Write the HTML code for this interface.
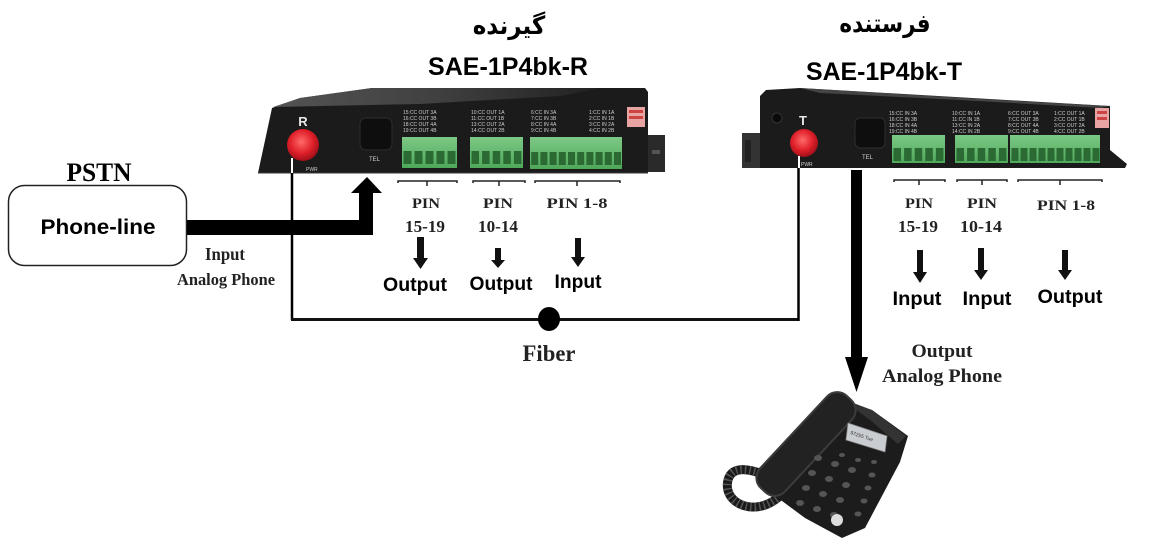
<!DOCTYPE html>
<html><head><meta charset="utf-8"><style>
html,body{margin:0;padding:0;background:#fff;}
svg{display:block;}
.sans{font-family:"Liberation Sans",Arial,sans-serif;font-weight:bold;}
.serif{font-family:"Liberation Serif","Times New Roman",serif;font-weight:bold;}
.fa{font-family:"DejaVu Sans",sans-serif;font-weight:bold;}
.tiny{font-family:"Liberation Sans",sans-serif;font-size:5px;fill:#cfcfcf;}
</style></head><body>
<svg width="1168" height="544" viewBox="0 0 1168 544" xmlns="http://www.w3.org/2000/svg">
<defs>
<radialGradient id="red" cx="45%" cy="40%" r="60%">
<stop offset="0" stop-color="#ff6a6a"/><stop offset="0.6" stop-color="#e0202a"/><stop offset="1" stop-color="#a0101a"/>
</radialGradient>
<linearGradient id="top" x1="0" y1="0" x2="1" y2="0">
<stop offset="0" stop-color="#5a5a5a"/><stop offset="0.5" stop-color="#444"/><stop offset="1" stop-color="#222"/>
</linearGradient>
<linearGradient id="grn" x1="0" y1="0" x2="0" y2="1">
<stop offset="0" stop-color="#7cc985"/><stop offset="1" stop-color="#4fa85a"/>
</linearGradient>
</defs>

<!-- Titles -->
<text class="fa" font-size="25" text-anchor="middle" transform="translate(509,34) scale(0.92,1)">گیرنده</text>
<text class="sans" x="508" y="75" font-size="25" text-anchor="middle" textLength="160" lengthAdjust="spacingAndGlyphs">SAE-1P4bk-R</text>
<text class="fa" font-size="25" text-anchor="middle" transform="translate(885,32) scale(0.86,1)">فرستنده</text>
<text class="sans" x="884" y="80" font-size="25" text-anchor="middle" textLength="156" lengthAdjust="spacingAndGlyphs">SAE-1P4bk-T</text>

<!-- LEFT DEVICE (R) -->
<rect x="645" y="135" width="20" height="37" fill="#2a2a2a"/>
<rect x="652" y="150" width="8" height="4" fill="#555"/>
<polygon points="258,173 272,108 300,98 372,88 645,88 648,92 648,173" fill="#1b1b1b"/>
<polygon points="273,107 300,98 372,88 600,88 560,96 420,104" fill="url(#top)" opacity="0.9"/>
<line x1="258" y1="173" x2="648" y2="173" stroke="#3a3a3a" stroke-width="1"/>
<circle cx="303" cy="145" r="16" fill="url(#red)"/>
<text class="sans" x="303" y="126" font-size="13" fill="#e8e8e8" text-anchor="middle" font-weight="normal">R</text>
<text class="tiny" x="306" y="171">PWR</text>
<rect x="360" y="118" width="32" height="32" rx="6" fill="#0e0e0e" stroke="#2e2e2e"/>
<text class="tiny" x="369" y="161" style="font-size:6px">TEL</text>
<g class="tiny">
<text x="403" y="114">15:CC OUT 3A</text><text x="403" y="120">16:CC OUT 3B</text><text x="403" y="126">18:CC OUT 4A</text><text x="403" y="132">19:CC OUT 4B</text>
<text x="471" y="114">10:CC OUT 1A</text><text x="471" y="120">11:CC OUT 1B</text><text x="471" y="126">13:CC OUT 2A</text><text x="471" y="132">14:CC OUT 2B</text>
<text x="531" y="114">6:CC IN 3A</text><text x="531" y="120">7:CC IN 3B</text><text x="531" y="126">8:CC IN 4A</text><text x="531" y="132">9:CC IN 4B</text>
<text x="589" y="114">1:CC IN 1A</text><text x="589" y="120">2:CC IN 1B</text><text x="589" y="126">3:CC IN 2A</text><text x="589" y="132">4:CC IN 2B</text>
</g>
<rect x="627" y="107" width="18" height="20" fill="#e8a3a3"/>
<rect x="629" y="110" width="14" height="3" fill="#c44"/><rect x="629" y="116" width="14" height="3" fill="#c44"/>
<rect x="402" y="137" width="55" height="31" fill="url(#grn)"/>
<rect x="470" y="137" width="53" height="31" fill="url(#grn)"/>
<rect x="530" y="137" width="92" height="32" fill="url(#grn)"/>
<g fill="#2b6a33">
<rect x="403.5" y="151" width="8" height="13"/><rect x="414.5" y="151" width="8" height="13"/><rect x="425.5" y="151" width="8" height="13"/><rect x="436.5" y="151" width="8" height="13"/><rect x="447.5" y="151" width="8" height="13"/>
<rect x="471.5" y="151" width="7.5" height="13"/><rect x="482.1" y="151" width="7.5" height="13"/><rect x="492.7" y="151" width="7.5" height="13"/><rect x="503.3" y="151" width="7.5" height="13"/><rect x="513.9" y="151" width="7.5" height="13"/>
<rect x="531.2" y="152" width="7" height="13"/><rect x="540.4" y="152" width="7" height="13"/><rect x="549.6" y="152" width="7" height="13"/><rect x="558.8" y="152" width="7" height="13"/><rect x="568" y="152" width="7" height="13"/><rect x="577.2" y="152" width="7" height="13"/><rect x="586.4" y="152" width="7" height="13"/><rect x="595.6" y="152" width="7" height="13"/><rect x="604.8" y="152" width="7" height="13"/><rect x="614" y="152" width="7" height="13"/>
</g>
<g stroke="#222" stroke-width="1.5" fill="none">
<polyline points="398,183 398,181 457,181 457,183"/><line x1="427" y1="181" x2="427" y2="186"/>
<polyline points="473,183 473,181 525,181 525,183"/><line x1="499" y1="181" x2="499" y2="186"/>
<polyline points="535,183 535,181 620,181 620,183"/><line x1="577" y1="181" x2="577" y2="186"/>
</g>

<!-- RIGHT DEVICE (T) -->
<rect x="742" y="133" width="22" height="35" fill="#333"/>
<rect x="745" y="140" width="6" height="22" fill="#222"/>
<polygon points="760,168 760,96 766,90 800,88 1110,106 1110,150 1127,164 1125,168" fill="#1b1b1b"/>
<polygon points="800,88 1000,100 1110,106 1100,108 960,100 820,93" fill="#555" opacity="0.7"/>
<circle cx="777" cy="118" r="5" fill="#0a0a0a" stroke="#333"/>
<circle cx="804" cy="143" r="14" fill="url(#red)"/>
<text class="sans" x="803" y="125" font-size="13" fill="#e8e8e8" text-anchor="middle" font-weight="normal">T</text>
<text class="tiny" x="801" y="166">PWR</text>
<rect x="855" y="118" width="30" height="30" rx="5" fill="#0e0e0e" stroke="#2e2e2e"/>
<text class="tiny" x="862" y="159" style="font-size:6px">TEL</text>
<g class="tiny">
<text x="889" y="115">15:CC IN 3A</text><text x="889" y="121">16:CC IN 3B</text><text x="889" y="127">18:CC IN 4A</text><text x="889" y="133">19:CC IN 4B</text>
<text x="952" y="115">10:CC IN 1A</text><text x="952" y="121">11:CC IN 1B</text><text x="952" y="127">13:CC IN 2A</text><text x="952" y="133">14:CC IN 2B</text>
<text x="1008" y="115">6:CC OUT 3A</text><text x="1008" y="121">7:CC OUT 3B</text><text x="1008" y="127">8:CC OUT 4A</text><text x="1008" y="133">9:CC OUT 4B</text>
<text x="1054" y="115">1:CC OUT 1A</text><text x="1054" y="121">2:CC OUT 1B</text><text x="1054" y="127">3:CC OUT 2A</text><text x="1054" y="133">4:CC OUT 2B</text>
</g>
<rect x="1095" y="108" width="14" height="20" fill="#e8a3a3"/>
<rect x="1097" y="111" width="10" height="3" fill="#c44"/><rect x="1097" y="117" width="10" height="3" fill="#c44"/>
<rect x="892" y="135" width="53" height="28" fill="url(#grn)"/>
<rect x="955" y="135" width="53" height="28" fill="url(#grn)"/>
<rect x="1010" y="135" width="90" height="28" fill="url(#grn)"/>
<g fill="#2b6a33">
<rect x="893.5" y="148" width="7.5" height="13"/><rect x="904.1" y="148" width="7.5" height="13"/><rect x="914.7" y="148" width="7.5" height="13"/><rect x="925.3" y="148" width="7.5" height="13"/><rect x="935.9" y="148" width="7.5" height="13"/>
<rect x="956.5" y="148" width="7.5" height="13"/><rect x="967.1" y="148" width="7.5" height="13"/><rect x="977.7" y="148" width="7.5" height="13"/><rect x="988.3" y="148" width="7.5" height="13"/><rect x="998.9" y="148" width="7.5" height="13"/>
<rect x="1011.5" y="148" width="7" height="13"/><rect x="1020.5" y="148" width="7" height="13"/><rect x="1029.5" y="148" width="7" height="13"/><rect x="1038.5" y="148" width="7" height="13"/><rect x="1047.5" y="148" width="7" height="13"/><rect x="1056.5" y="148" width="7" height="13"/><rect x="1065.5" y="148" width="7" height="13"/><rect x="1074.5" y="148" width="7" height="13"/><rect x="1083.5" y="148" width="7" height="13"/><rect x="1092.5" y="148" width="7" height="13"/>
</g>
<g stroke="#222" stroke-width="1.5" fill="none">
<polyline points="894,182 894,180 945,180 945,182"/><line x1="919" y1="180" x2="919" y2="185"/>
<polyline points="957,182 957,180 1007,180 1007,182"/><line x1="982" y1="180" x2="982" y2="185"/>
<polyline points="1018,182 1018,180 1102,180 1102,182"/><line x1="1060" y1="180" x2="1060" y2="185"/>
</g>

<!-- PSTN / phone-line -->
<text class="serif" x="99" y="181" font-size="26" text-anchor="middle" textLength="65" lengthAdjust="spacingAndGlyphs">PSTN</text>
<rect x="8.5" y="185.5" width="178" height="80" rx="16" fill="#fff" stroke="#222" stroke-width="1.5"/>
<text class="sans" x="98" y="234" font-size="21" text-anchor="middle" textLength="115" lengthAdjust="spacingAndGlyphs">Phone-line</text>
<polygon points="187,220 359,220 359,193 351,193 367,177 382,193 373,193 373,235 187,235" fill="#000"/>
<text class="serif" x="225" y="260" font-size="18" text-anchor="middle" textLength="40" lengthAdjust="spacingAndGlyphs" fill="#222">Input</text>
<text class="serif" x="226" y="285" font-size="17" text-anchor="middle" textLength="98" lengthAdjust="spacingAndGlyphs" fill="#222">Analog Phone</text>

<!-- Fiber -->
<line x1="292" y1="158" x2="292" y2="173" stroke="#fff" stroke-width="2"/>
<line x1="292" y1="173" x2="292" y2="320" stroke="#000" stroke-width="2.5"/>
<line x1="291" y1="319.5" x2="799" y2="319.5" stroke="#111" stroke-width="3"/>
<line x1="799" y1="156" x2="799" y2="168" stroke="#fff" stroke-width="2"/>
<line x1="798.5" y1="168" x2="798.5" y2="321" stroke="#000" stroke-width="2.5"/>
<ellipse cx="549" cy="319" rx="11" ry="12" fill="#000"/>
<text class="serif" x="549" y="361" font-size="23" text-anchor="middle" textLength="53" lengthAdjust="spacingAndGlyphs" fill="#222">Fiber</text>

<g class="serif" fill="#222" text-anchor="middle">
<text x="426" y="208" font-size="15" textLength="28" lengthAdjust="spacingAndGlyphs">PIN</text>
<text x="425" y="232" font-size="17" textLength="40" lengthAdjust="spacingAndGlyphs">15-19</text>
<text x="498" y="208" font-size="15" textLength="30" lengthAdjust="spacingAndGlyphs">PIN</text>
<text x="498" y="232" font-size="17" textLength="40" lengthAdjust="spacingAndGlyphs">10-14</text>
<text x="577" y="208" font-size="15" textLength="61" lengthAdjust="spacingAndGlyphs">PIN 1-8</text>
<text x="919" y="208" font-size="15" textLength="28" lengthAdjust="spacingAndGlyphs">PIN</text>
<text x="918" y="232" font-size="17" textLength="40" lengthAdjust="spacingAndGlyphs">15-19</text>
<text x="982" y="208" font-size="15" textLength="30" lengthAdjust="spacingAndGlyphs">PIN</text>
<text x="981" y="232" font-size="17" textLength="42" lengthAdjust="spacingAndGlyphs">10-14</text>
<text x="1066" y="210" font-size="15" textLength="58" lengthAdjust="spacingAndGlyphs">PIN 1-8</text>
</g>
<g fill="#111">
<polygon points="417,237 424,237 424,258 428,258 420.5,269 413,258 417,258"/>
<polygon points="495,248 501,248 501,260 505,260 498,268 491,260 495,260"/>
<polygon points="575,238 581,238 581,257 585,257 578,267 571,257 575,257"/>
<polygon points="917,250 923,250 923,272 927,272 920,283 913,272 917,272"/>
<polygon points="978,248 984,248 984,270 988,270 981,280 974,270 978,270"/>
<polygon points="1062,250 1068,250 1068,270 1072,270 1065,280 1058,270 1062,270"/>
</g>
<g class="sans" fill="#000" text-anchor="middle" font-size="19">
<text x="415" y="291" textLength="64" lengthAdjust="spacingAndGlyphs">Output</text>
<text x="501" y="290" textLength="63" lengthAdjust="spacingAndGlyphs">Output</text>
<text x="578" y="288" textLength="47" lengthAdjust="spacingAndGlyphs">Input</text>
<text x="917" y="305" textLength="49" lengthAdjust="spacingAndGlyphs">Input</text>
<text x="987" y="305" textLength="49" lengthAdjust="spacingAndGlyphs">Input</text>
<text x="1070" y="303" textLength="65" lengthAdjust="spacingAndGlyphs">Output</text>
</g>

<!-- big down arrow -->
<rect x="851" y="170" width="11" height="190" fill="#000"/>
<polygon points="845,357 868,357 856.5,392" fill="#000"/>
<text class="serif" x="942" y="357" font-size="19" text-anchor="middle" textLength="61" lengthAdjust="spacingAndGlyphs" fill="#222">Output</text>
<text class="serif" x="942" y="382" font-size="19" text-anchor="middle" textLength="120" lengthAdjust="spacingAndGlyphs" fill="#222">Analog Phone</text>

<!-- telephone -->
<path d="M772,478 C750,468 732,465 728,480 C724,496 738,508 756,507 C768,506 776,500 782,494" fill="none" stroke="#1a1a1a" stroke-width="9"/>
<path d="M772,478 C750,468 732,465 728,480 C724,496 738,508 756,507 C768,506 776,500 782,494" fill="none" stroke="#555" stroke-width="9" stroke-dasharray="1.5 3"/>
<polygon points="828,398 872,410 908,436 900,462 865,528 842,538 805,518 778,498 766,482 800,440" fill="#1c1c1c"/>
<polygon points="840,398 872,410 906,436 898,444 870,420" fill="#333"/>
<rect x="-63" y="-17" width="126" height="34" rx="14" fill="#222" stroke="#3c3c3c" stroke-width="2" transform="translate(806,444) rotate(-47)"/>
<polygon points="848,423 887,436 885,452 846,440" fill="#c9ccd0" stroke="#888" stroke-width="0.8"/>
<text x="850" y="434" font-size="5" fill="#333" font-family="Liberation Sans,sans-serif" transform="rotate(18 850 434)">97255 Tue</text>
<g fill="#555">
<ellipse cx="818" cy="458" rx="4" ry="3"/><ellipse cx="835" cy="464" rx="4" ry="3"/><ellipse cx="852" cy="470" rx="4" ry="3"/>
<ellipse cx="812" cy="473" rx="4" ry="3"/><ellipse cx="829" cy="479" rx="4" ry="3"/><ellipse cx="846" cy="485" rx="4" ry="3"/>
<ellipse cx="806" cy="488" rx="4" ry="3"/><ellipse cx="823" cy="494" rx="4" ry="3"/><ellipse cx="840" cy="500" rx="4" ry="3"/>
<ellipse cx="800" cy="503" rx="4" ry="3"/><ellipse cx="817" cy="509" rx="4" ry="3"/><ellipse cx="834" cy="515" rx="4" ry="3"/>
<ellipse cx="872" cy="475" rx="3.5" ry="2.5"/><ellipse cx="868" cy="488" rx="3.5" ry="2.5"/><ellipse cx="864" cy="501" rx="3.5" ry="2.5"/><ellipse cx="858" cy="514" rx="3.5" ry="2.5"/>
<ellipse cx="842" cy="455" rx="3" ry="2"/><ellipse cx="858" cy="460" rx="3" ry="2"/><ellipse cx="874" cy="462" rx="3" ry="2"/>
</g>
<circle cx="837" cy="520" r="6" fill="#ddd"/>
</svg>
</body></html>
